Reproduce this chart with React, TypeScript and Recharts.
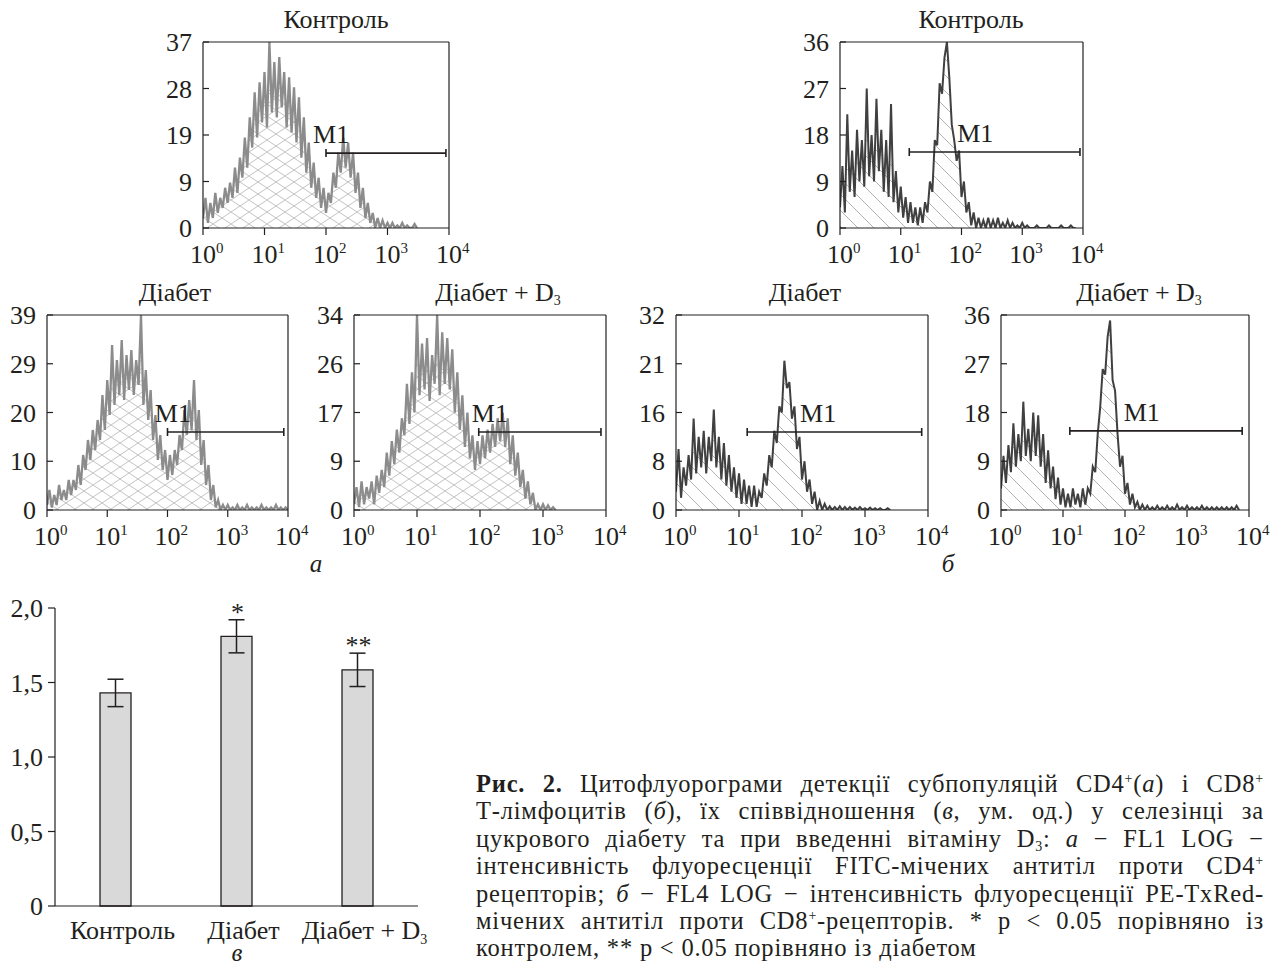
import React from "react";
import {
  AreaChart,
  Area,
  XAxis,
  YAxis,
  ReferenceLine,
  ReferenceDot,
  BarChart,
  Bar,
  ErrorBar,
} from "recharts";

const FONT = '"Liberation Serif", "Times New Roman", serif';
const INK = "#231f20";

// ---------- histogram data (counts per channel, channels every 0.04 decade from 10^0) ----------
const LG_STEP = 0.04;
const DECADES = [0, 1, 2, 3, 4];

const cd4Control = [
  2, 6, 1, 5, 2, 7, 3, 6, 4, 8,
  5, 9, 6, 12, 7, 14, 10, 18, 12, 22,
  16, 27, 18, 29, 21, 31, 20, 37, 23, 33,
  22, 34, 24, 31, 20, 30, 19, 28, 17, 26,
  14, 22, 11, 17, 8, 13, 6, 10, 4, 8,
  3, 7, 5, 11, 8, 15, 11, 18, 12, 17,
  10, 15, 7, 11, 4, 8, 2, 5, 1, 3,
  0, 2, 0, 1.5, 0, 1, 0, 1, 0, 0.5,
  0, 1, 0, 0.5, 0, 0, 0.8, 0,
];

const cd4Diabetes = [
  1, 4, 0.5, 3, 1, 5, 2, 4, 2, 6,
  3, 6, 4, 9, 5, 11, 8, 14, 10, 16,
  12, 18, 14, 23, 16, 26, 19, 33, 21, 30,
  23, 34, 22, 31, 24, 32, 23, 30, 25, 39,
  21, 28, 18, 24, 14, 19, 10, 15, 8, 12,
  6, 11, 7, 12, 9, 15, 12, 20, 15, 22,
  16, 26, 14, 20, 9, 14, 5, 9, 2, 5,
  0.5, 2, 0, 1, 0, 1, 0, 0.5, 0, 1,
  0, 0.5, 0, 1, 0, 0.5, 0, 0.5, 0, 1,
  0, 0.5, 0, 0.5, 0, 1, 0, 0.5, 0, 0.5,
  0,
];

const cd4DiabetesD3 = [
  1, 4, 0.5, 5, 1, 4, 2, 5, 1, 6,
  3, 7, 4, 10, 6, 12, 8, 14, 10, 16,
  13, 22, 15, 24, 17, 34, 20, 29, 21, 30,
  19, 27, 22, 34, 20, 31, 22, 30, 21, 28,
  17, 24, 14, 20, 11, 17, 9, 13, 7, 12,
  8, 13, 9, 14, 10, 15, 11, 16, 12, 17,
  11, 16, 8, 13, 6, 10, 4, 7, 2, 5,
  1, 3, 0, 1, 0, 1, 0, 0.8, 0, 0.5,
  0,
];

const cd8Control = [
  4, 12, 3, 22, 7, 15, 6, 19, 9, 17,
  8, 27, 10, 18, 9, 25, 11, 19, 7, 17,
  6, 24, 5, 11, 3, 8, 2, 6, 1, 5,
  1, 4, 0.5, 4, 1, 5, 3, 9, 7, 17,
  16, 28, 26, 33, 36, 29, 20, 17, 13, 15,
  6, 9, 3, 5, 0.5, 3, 0, 2, 0, 1.5,
  0, 2, 0, 1.5, 0, 2, 0, 1, 0, 1.5,
  0, 1, 0, 0.5, 0, 1, 0, 0.5, 0, 0,
  0, 0.5, 0, 0, 0, 0, 0.5, 0, 0, 0,
  0, 0.5, 0, 0, 0, 0.5, 0, 0,
];

const cd8Diabetes = [
  3, 10, 2, 7, 4, 9, 5, 15, 6, 12,
  7, 13, 6, 12, 8, 16.5, 7, 12, 5, 11,
  4, 9, 3, 7, 2, 6, 1, 5, 1, 4,
  0.5, 4, 0.5, 3, 2, 6, 4, 9, 7, 13,
  11, 17, 16, 24.5, 20, 21, 15, 17, 10, 12,
  5, 8, 3, 5, 1, 3, 0, 1.5, 0, 1,
  0, 0.6, 0, 0.5, 0, 0.6, 0, 0.5, 0, 0.5,
  0, 0.4, 0, 0.5, 0, 0.3, 0, 0.4, 0, 0.3,
  0, 0.3, 0, 0, 0.3, 0,
];

const cd8DiabetesD3 = [
  4, 10, 5, 12, 7, 16, 8, 14, 9, 20,
  10, 15, 9, 18, 10, 17.5, 8, 14, 5, 11,
  4, 8, 2, 6, 1, 4, 0.5, 3, 0.5, 4,
  1, 3, 0.5, 4, 1, 4, 3, 8, 7, 14,
  19, 26, 25, 32, 35, 24, 22, 14, 8, 10,
  3, 5, 1, 3, 0.5, 1.5, 0, 1, 0, 0.8,
  0, 0.5, 0, 0.8, 0, 0.5, 0, 0.8, 0, 0.5,
  0, 1, 0, 0.5, 0, 0.8, 0, 0.5, 0, 0.5,
  0, 0.8, 0, 0.5, 0, 0.5, 0, 0.5, 0, 0.5,
  0, 0.5, 0, 0.5, 0, 0.8, 0,
];

// y-axis maxima and printed tick labels (quarter steps of the maximum)
const yMaxCd4Control = 37;
const yMaxCd4Diabetes = 39;
const yMaxCd4DiabetesD3 = 34;
const yMaxCd8Control = 36;
const yMaxCd8Diabetes = 32;
const yMaxCd8DiabetesD3 = 36;

const yLabelsCd4Control = ["0", "9", "19", "28", "37"];
const yLabelsCd4Diabetes = ["0", "10", "20", "29", "39"];
const yLabelsCd4DiabetesD3 = ["0", "9", "17", "26", "34"];
const yLabelsCd8Control = ["0", "9", "18", "27", "36"];
const yLabelsCd8Diabetes = ["0", "8", "16", "21", "32"];
const yLabelsCd8DiabetesD3 = ["0", "9", "18", "27", "36"];

// M1 gates (log10 start, log10 end, count level, label position)
const gateCd4Control = { from: 2.0, to: 3.95, level: 14.9, labelAt: 1.79 };
const gateCd4Diabetes = { from: 2.0, to: 3.93, level: 15.6, labelAt: 1.79 };
const gateCd4DiabetesD3 = { from: 1.98, to: 3.92, level: 13.6, labelAt: 1.87 };
const gateCd8Control = { from: 1.14, to: 3.95, level: 14.7, labelAt: 1.93 };
const gateCd8Diabetes = { from: 1.13, to: 3.9, level: 12.8, labelAt: 1.97 };
const gateCd8DiabetesD3 = { from: 1.11, to: 3.89, level: 14.6, labelAt: 1.98 };

// ---------- ratio bar chart data ----------
const groups = ["Контроль", "Діабет", "Діабет + D3"];
const ratioMean = [1.43, 1.81, 1.585];
const ratioErr = [0.092, 0.111, 0.112];
const significance = ["", "*", "**"];
const ratioTicks = [0, 0.5, 1, 1.5, 2];
const ratioTickLabels = ["0", "0,5", "1,0", "1,5", "2,0"];

type Gate = { from: number; to: number; level: number; labelAt: number };
type HistProps = {
  id: string;
  x: number;
  y: number;
  w: number;
  h: number;
  values: number[];
  ymax: number;
  yLabels: string[];
  color: string;
  lineWidth: number;
  hatch: "cross" | "diag";
  gate: Gate;
};

const ML = 62;
const MT = 22;
const MR = 34;
const MB = 46;

function Histogram(p: HistProps) {
  const data = p.values.map((v, i) => ({ lg: i * LG_STEP, v }));
  const W = p.w + ML + MR;
  const H = p.h + MT + MB;
  const yTicks = [0, p.ymax / 4, p.ymax / 2, (3 * p.ymax) / 4, p.ymax];
  const patId = `hatch-${p.id}`;

  const YTick = (t: any) => {
    const idx = yTicks.indexOf(t.payload.value);
    return (
      <g>
        <line x1={t.x} x2={t.x + 6} y1={t.y} y2={t.y} stroke={INK} strokeWidth={1.2} />
        <text x={t.x - 11} y={t.y + 9} textAnchor="end" fontSize={26} fontFamily={FONT} fill={INK}>
          {p.yLabels[idx]}
        </text>
      </g>
    );
  };
  const XTick = (t: any) => (
    <text x={t.x - 13} y={t.y + 28} fontSize={26} fontFamily={FONT} fill={INK}>
      10
      <tspan dy={-10} fontSize={15}>
        {t.payload.value}
      </tspan>
    </text>
  );
  const GateShape = (s: any) => (
    <g stroke={INK} strokeWidth={1.6}>
      <line x1={s.x1} y1={s.y1} x2={s.x2} y2={s.y2} />
      <line x1={s.x1} y1={s.y1 - 4} x2={s.x1} y2={s.y1 + 4} />
      <line x1={s.x2} y1={s.y2 - 4} x2={s.x2} y2={s.y2 + 4} />
    </g>
  );
  const GateLabel = (s: any) => (
    <text x={s.cx} y={s.cy - 10} fontSize={26} fontFamily={FONT} fill={INK}>
      M1
    </text>
  );

  return (
    <div style={{ position: "absolute", left: p.x - ML, top: p.y - MT }}>
      <AreaChart width={W} height={H} data={data} margin={{ top: MT, right: MR, left: 0, bottom: 0 }}>
        <defs>
          {p.hatch === "cross" ? (
            <pattern id={patId} patternUnits="userSpaceOnUse" width={18} height={12}>
              <path d="M0,0 L18,12 M0,12 L18,0" stroke="#b3b3b3" strokeWidth={0.8} fill="none" />
            </pattern>
          ) : (
            <pattern id={patId} patternUnits="userSpaceOnUse" width={16} height={16}>
              <path d="M0,0 L16,16 M-4,12 L4,20 M12,-4 L20,4" stroke="#a0a0a0" strokeWidth={0.8} fill="none" />
            </pattern>
          )}
        </defs>
        <XAxis
          type="number"
          dataKey="lg"
          domain={[0, 4]}
          ticks={DECADES}
          allowDataOverflow
          height={MB}
          tickSize={7}
          tickMargin={0}
          axisLine={{ stroke: INK, strokeWidth: 1.2 }}
          tickLine={{ stroke: INK, strokeWidth: 1.2 }}
          tick={XTick}
          interval={0}
        />
        <YAxis
          type="number"
          domain={[0, p.ymax]}
          ticks={yTicks}
          allowDataOverflow
          width={ML}
          tickSize={0}
          tickMargin={0}
          tickLine={false}
          axisLine={{ stroke: INK, strokeWidth: 1.2 }}
          tick={YTick}
          interval={0}
        />
        <Area
          type="linear"
          dataKey="v"
          stroke={p.color}
          strokeWidth={p.lineWidth}
          strokeLinejoin="miter"
          fill={`url(#${patId})`}
          fillOpacity={1}
          isAnimationActive={false}
          dot={false}
          activeDot={false}
        />
        <ReferenceLine y={p.ymax} stroke={INK} strokeWidth={1.2} />
        <ReferenceLine x={4} stroke={INK} strokeWidth={1.2} />
        <ReferenceLine
          segment={[
            { x: p.gate.from, y: p.gate.level },
            { x: p.gate.to, y: p.gate.level },
          ]}
          shape={GateShape}
        />
        <ReferenceDot x={p.gate.labelAt} y={p.gate.level} r={1} shape={GateLabel} />
      </AreaChart>
    </div>
  );
}

function Title({ cx, baseline, children }: { cx: number; baseline: number; children: React.ReactNode }) {
  return (
    <div
      style={{
        position: "absolute",
        left: cx - 150,
        width: 300,
        top: baseline - 22,
        textAlign: "center",
        fontSize: 26,
        lineHeight: "26px",
        whiteSpace: "nowrap",
      }}
    >
      {children}
    </div>
  );
}

const Sub3 = () => (
  <span style={{ fontSize: 14, position: "relative", top: 4 }}>3</span>
);

const Sup = ({ children }: { children: React.ReactNode }) => (
  <span style={{ fontSize: 14, position: "relative", top: -9 }}>{children}</span>
);

function PanelLetter({ cx, baseline, children }: { cx: number; baseline: number; children: React.ReactNode }) {
  return (
    <div
      style={{
        position: "absolute",
        left: cx - 20,
        width: 40,
        top: baseline - 16,
        textAlign: "center",
        fontSize: 25,
        lineHeight: "16px",
        fontStyle: "italic",
      }}
    >
      {children}
    </div>
  );
}

function RatioChart() {
  const data = groups.map((g, i) => ({
    group: g,
    mean: ratioMean[i],
    err: ratioErr[i],
    sig: significance[i],
  }));
  const YTick = (t: any) => {
    const idx = ratioTicks.indexOf(t.payload.value);
    return (
      <text x={t.x} y={t.y + 9} textAnchor="end" fontSize={26} fontFamily={FONT} fill={INK}>
        {ratioTickLabels[idx]}
      </text>
    );
  };
  const XTick = (t: any) => {
    const label: string = t.payload.value;
    const hasSub = label.endsWith("D3");
    return (
      <text x={t.x + 7} y={t.y + 33} textAnchor="middle" fontSize={26} fontFamily={FONT} fill={INK}>
        {hasSub ? label.slice(0, -1) : label}
        {hasSub ? (
          <tspan fontSize={14} dy={5}>
            3
          </tspan>
        ) : null}
      </text>
    );
  };
  const Star = (s: any) => (
    <text x={s.cx + 1} y={s.cy + 1} textAnchor="middle" fontSize={26} fontFamily={FONT} fill={INK}>
      {s.sig}
    </text>
  );
  return (
    <div style={{ position: "absolute", left: 0, top: 590 }}>
      <BarChart width={440} height={380} data={data} margin={{ top: 18, right: 22, left: 0, bottom: 0 }}>
        <XAxis
          dataKey="group"
          type="category"
          height={64}
          tickSize={0}
          tickMargin={0}
          tickLine={false}
          axisLine={{ stroke: INK, strokeWidth: 1.2 }}
          tick={XTick}
          interval={0}
        />
        <YAxis
          type="number"
          domain={[0, 2]}
          ticks={ratioTicks}
          width={55}
          tickSize={7}
          tickMargin={5}
          tickLine={{ stroke: INK, strokeWidth: 1.2 }}
          axisLine={{ stroke: INK, strokeWidth: 1.2 }}
          tick={YTick}
          interval={0}
        />
        <Bar dataKey="mean" barSize={31} fill="#d9d9d9" stroke={INK} strokeWidth={1.3} isAnimationActive={false}>
          <ErrorBar dataKey="err" width={8} stroke={INK} strokeWidth={1.5} direction="y" />
        </Bar>
        {data
          .filter((d) => d.sig)
          .map((d) => (
            <ReferenceDot
              key={d.group}
              x={d.group}
              y={d.mean + d.err}
              r={1}
              shape={(s: any) => <Star {...s} sig={d.sig} />}
            />
          ))}
      </BarChart>
    </div>
  );
}

const captionLines: React.ReactNode[] = [
  <>
    <b>Рис. 2.</b> Цитофлуорограми детекції субпопуляцій CD4<Sup>+</Sup>(<i>а</i>) і CD8<Sup>+</Sup>
  </>,
  <>
    Т-лімфоцитів (<i>б</i>), їх співвідношення (<i>в</i>, ум. од.) у селезінці за
  </>,
  <>
    цукрового діабету та при введенні вітаміну D<Sub3 />: <i>а</i> − FL1 LOG −
  </>,
  <>
    інтенсивність флуоресценції FITC-мічених антитіл проти CD4<Sup>+</Sup>
  </>,
  <>
    рецепторів; <i>б</i> − FL4 LOG − інтенсивність флуоресценції PE-TxRed-
  </>,
  <>
    мічених антитіл проти CD8<Sup>+</Sup>-рецепторів. * р &lt; 0.05 порівняно із
  </>,
  <>контролем, ** р &lt; 0.05 порівняно із діабетом</>,
];

function Caption() {
  return (
    <>
      {captionLines.map((line, i) => {
        const last = i === captionLines.length - 1;
        return (
          <div
            key={i}
            style={{
              position: "absolute",
              left: 476,
              width: 788,
              top: 792 + i * 27.4 - 19,
              fontSize: 24.5,
              lineHeight: "22px",
              letterSpacing: "0.8px",
              textAlign: last ? "left" : "justify",
              textAlignLast: last ? "left" : "justify",
            }}
          >
            {line}
          </div>
        );
      })}
    </>
  );
}

export default function App() {
  return (
    <div
      style={{
        position: "absolute",
        left: 0,
        top: 0,
        width: 1273,
        height: 968,
        background: "#fff",
        fontFamily: FONT,
        color: INK,
        overflow: "hidden",
      }}
    >
      <Histogram id="a1" x={203} y={42} w={246} h={186} values={cd4Control} ymax={yMaxCd4Control} yLabels={yLabelsCd4Control} color="#8c8c8c" lineWidth={2.3} hatch="cross" gate={gateCd4Control} />
      <Histogram id="b1" x={840} y={42} w={243} h={186} values={cd8Control} ymax={yMaxCd8Control} yLabels={yLabelsCd8Control} color="#404040" lineWidth={2} hatch="diag" gate={gateCd8Control} />
      <Histogram id="a2" x={47} y={315} w={241} h={195} values={cd4Diabetes} ymax={yMaxCd4Diabetes} yLabels={yLabelsCd4Diabetes} color="#8c8c8c" lineWidth={2.3} hatch="cross" gate={gateCd4Diabetes} />
      <Histogram id="a3" x={354} y={315} w={252} h={195} values={cd4DiabetesD3} ymax={yMaxCd4DiabetesD3} yLabels={yLabelsCd4DiabetesD3} color="#8c8c8c" lineWidth={2.3} hatch="cross" gate={gateCd4DiabetesD3} />
      <Histogram id="b2" x={676} y={315} w={252} h={195} values={cd8Diabetes} ymax={yMaxCd8Diabetes} yLabels={yLabelsCd8Diabetes} color="#404040" lineWidth={2} hatch="diag" gate={gateCd8Diabetes} />
      <Histogram id="b3" x={1001} y={315} w={248} h={195} values={cd8DiabetesD3} ymax={yMaxCd8DiabetesD3} yLabels={yLabelsCd8DiabetesD3} color="#404040" lineWidth={2} hatch="diag" gate={gateCd8DiabetesD3} />

      <Title cx={336} baseline={29}>Контроль</Title>
      <Title cx={971} baseline={29}>Контроль</Title>
      <Title cx={175} baseline={302}>Діабет</Title>
      <Title cx={498} baseline={302}>
        Діабет + D<Sub3 />
      </Title>
      <Title cx={805} baseline={302}>Діабет</Title>
      <Title cx={1139} baseline={302}>
        Діабет + D<Sub3 />
      </Title>

      <PanelLetter cx={316} baseline={572}>а</PanelLetter>
      <PanelLetter cx={948} baseline={572}>б</PanelLetter>
      <PanelLetter cx={237} baseline={961}>в</PanelLetter>

      <RatioChart />
      <Caption />
    </div>
  );
}
